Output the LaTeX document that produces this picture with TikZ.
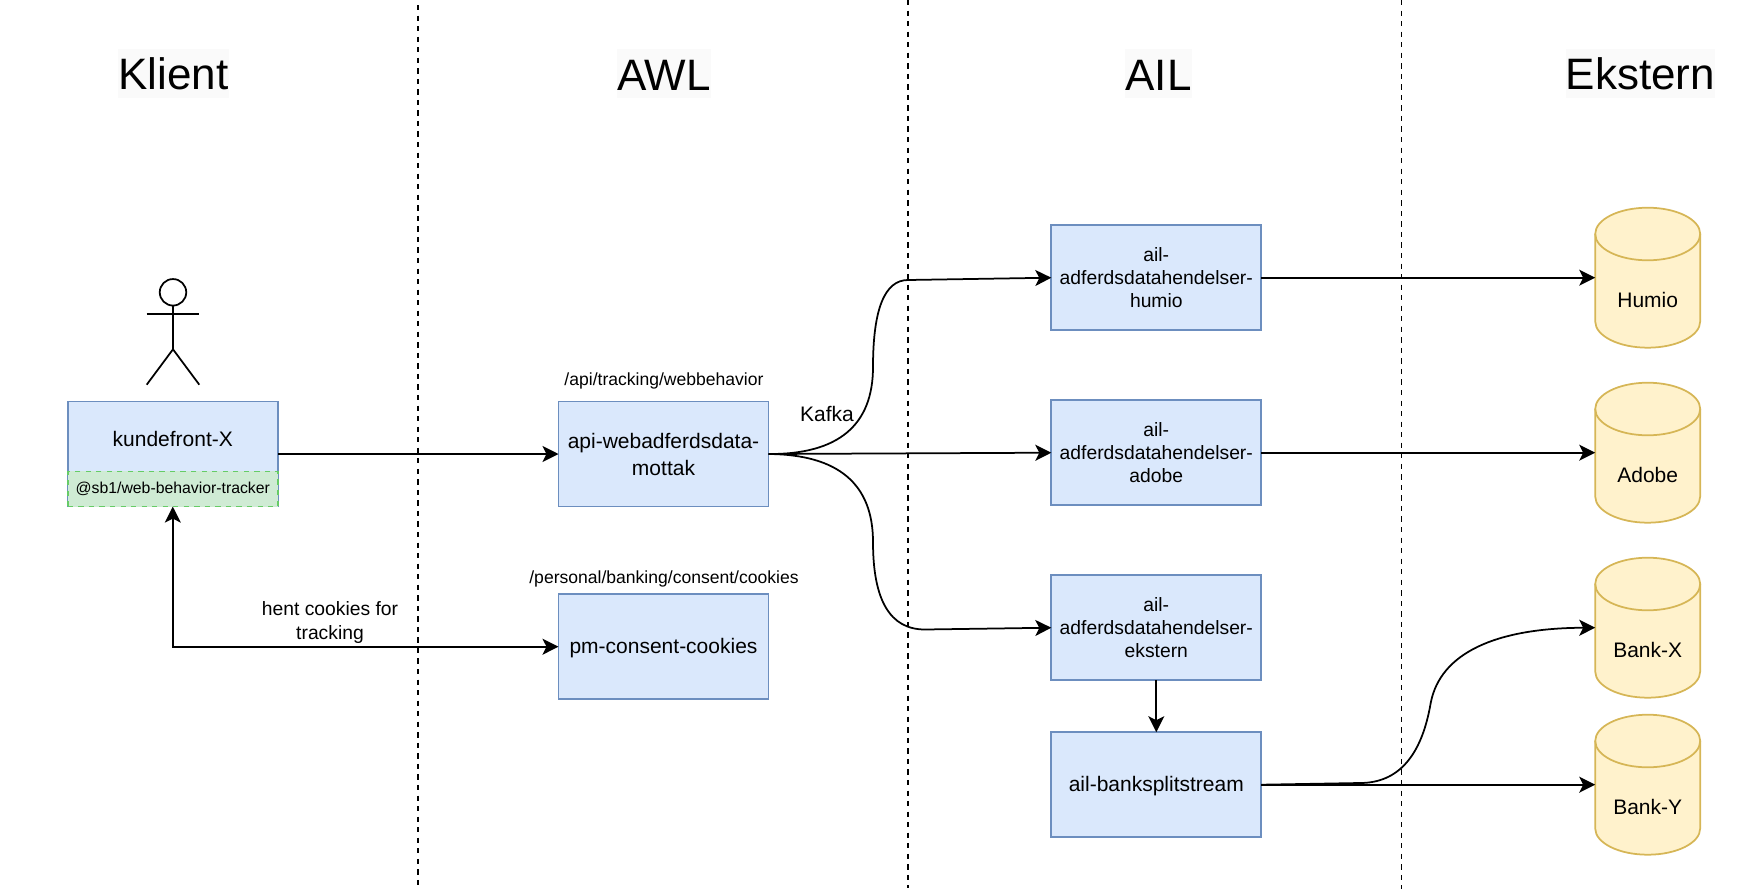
\documentclass[tikz,border=0pt]{standalone}
\usepackage{fontspec}
\setmainfont{Liberation Sans}
\usepackage{xcolor}
\usetikzlibrary{arrows.meta}
\definecolor{svcfill}{HTML}{DAE8FC}
\definecolor{svcline}{HTML}{6C8EBF}
\definecolor{libfill}{HTML}{CFEBD4}
\definecolor{libline}{HTML}{66CC66}
\definecolor{dbfill}{HTML}{FFF2CC}
\definecolor{dbline}{HTML}{D6B656}
\tikzset{linetext/.style={execute at begin node={\rule[-.212em]{0pt}{#1em}},execute at end node={\rule[-.212em]{0pt}{#1em}}},
 linetext/.default=1.05,
 svcbox/.style={draw=svcline,fill=svcfill,line width=1.75pt,minimum width=210pt,minimum height=105pt,inner sep=0pt,outer sep=0pt,align=center,font=\fontsize{21}{24.6}\selectfont},
 svctext/.style={align=center,font=\fontsize{21}{26.7}\selectfont},
 ailbox/.style={svcbox,font=\fontsize{19.3}{23}\selectfont},
 libbox/.style={draw=libline,fill=libfill,line width=1.75pt,dash pattern=on 5.27pt off 5.27pt,minimum width=210pt,minimum height=35.2pt,inner sep=0pt,outer sep=0pt,font=\fontsize{15.8}{18}\selectfont,linetext},
 dbnode/.style={minimum width=105pt,minimum height=140pt,inner sep=0pt,outer sep=0pt},
 dbshape/.style={draw=dbline,fill=dbfill,line width=1.75pt},
 dbtext/.style={font=\fontsize{21}{24.6}\selectfont,linetext},
 title/.style={fill=black!2,inner xsep=0pt,inner ysep=0pt,minimum height=49pt,text height=34.2pt,font=\fontsize{44}{50}\selectfont},
 pathtext/.style={font=\fontsize{17.55}{20}\selectfont,linetext=1.03},
 edgetext/.style={align=center,font=\fontsize{19.3}{24}\selectfont,linetext=1.03},
 sepline/.style={black,line width=1.75pt,dash pattern=on 5.27pt off 5.27pt},
 flow/.style={draw,line width=1.75pt,-{Stealth[length=16pt,width=16pt,inset=4pt]}},
 }
\newcommand{\dbcyl}[3]{
        \node[dbnode] (#1) at #2 {};
        \draw[dbshape] ([yshift=-26.3pt]#1.north west) arc[start angle=180,end angle=0,x radius=52.5pt,y radius=26.3pt] -- ([yshift=26.3pt]#1.south east) arc[start angle=0,end angle=-180,x radius=52.5pt,y radius=26.3pt] -- cycle;
        \draw[dbshape,fill=none] ([yshift=-26.3pt]#1.north west) arc[start angle=180,end angle=360,x radius=52.5pt,y radius=26.3pt];
        \node[dbtext] (#1text) at ([yshift=-23.5pt]#1.center) {#3};
}

\begin{document}
\begin{tikzpicture}[x=1pt,y=-1pt]
        \useasboundingbox (0,0) rectangle (1748,889);
        % columns
        \node[title] (klient) at (173.5,73) {Klient};
        \node[title] (awl) at (664,73) {AWL};
        \node[title] (ail) at (1158.5,73) {AIL};
        \node[title] (ekstern) at (1640.5,73) {Ekstern};
        \coordinate (sepatop) at (418,5);
        \coordinate (sepabot) at (418,889);
        \coordinate (sepbtop) at (908,0);
        \coordinate (sepbbot) at (908,888);
        \coordinate (sepctop) at (1401.5,0);
        \coordinate (sepcbot) at (1401.5,889);
        \draw[sepline] (sepatop) -- (sepabot);
        \draw[sepline] (sepbtop) -- (sepbbot);
        \draw[sepline] (sepctop) -- (sepcbot);
        % user
        \node[draw,circle,line width=1.75pt,minimum size=26.5pt,inner sep=0pt,outer sep=0pt] (head) at (173,292.3) {};
        \coordinate (hip) at (173,349.3);
        \coordinate (armleft) at (146.7,314.3);
        \coordinate (armright) at (199.3,314.3);
        \coordinate (footleft) at (146.7,384.7);
        \coordinate (footright) at (199.3,384.7);
        \draw[line width=1.75pt] (head.south) -- (hip);
        \draw[line width=1.75pt] (armleft) -- (armright);
        \draw[line width=1.75pt] (footleft) -- (hip) -- (footright);
        % boxes
        \node[svcbox,label={[svctext,yshift=15pt]center:kundefront-X}] (kundefront) at (172.8,454) {};
        \node[libbox] (tracker) at (172.8,489) {@sb1/web-behavior-tracker};
        \node[svcbox,label={[svctext,yshift=-0.7pt]center:{api-webadferdsdata-\\mottak}}] (mottak) at (663.5,454) {};
        \node[svcbox,linetext] (consent) at (663.5,646.7) {pm-consent-cookies};
        \node[ailbox] (humioail) at (1156.3,277.7) {ail-\\adferdsdatahendelser-\\humio};
        \node[ailbox] (adobeail) at (1156.3,452.7) {ail-\\adferdsdatahendelser-\\adobe};
        \node[ailbox] (eksternail) at (1156.3,627.7) {ail-\\adferdsdatahendelser-\\ekstern};
        \node[svcbox,linetext] (banksplit) at (1156.3,784.7) {ail-banksplitstream};
        \dbcyl{humio}{(1647.7,277.7)}{Humio}
        \dbcyl{adobe}{(1647.7,452.7)}{Adobe}
        \dbcyl{bankx}{(1647.7,627.7)}{Bank-X}
        \dbcyl{banky}{(1647.7,784.7)}{Bank-Y}
        % labels
        \node[pathtext] (webpath) at (664,380) {/api/tracking/webbehavior};
        \node[pathtext] (cookiepath) at (664,578) {/personal/banking/consent/cookies};
        \node[edgetext] (kafka) at (827,416) {\fontsize{21}{24}\selectfont Kafka};
        \node[edgetext] (hent) at (330,623) {hent cookies for\\tracking};
        % connectors
        \draw[flow] (kundefront.east) -- (mottak.west);
        \draw[flow,{Stealth[length=16pt,width=16pt,inset=4pt]}-{Stealth[length=16pt,width=16pt,inset=4pt]}] (tracker.south) |- (consent.west);
        \draw[flow] (mottak.east) .. controls (838.3,454.5) and (873,425.3) .. (873,367) .. controls (873,309) and (884.7,280) .. (908,280) -- (humioail.west);
        \draw[flow] (mottak.east) -- (adobeail.west);
        \draw[flow] (mottak.east) .. controls (838.3,454.5) and (873,484) .. (873,542) .. controls (873,600.3) and (890,629.5) .. (925,629.5) -- (eksternail.west);
        \draw[flow] (eksternail.south) -- (banksplit.north);
        \draw[flow] (humioail.east) -- (humio.west);
        \draw[flow] (adobeail.east) -- (adobe.west);
        \draw[flow] (banksplit.east) -- (1360,783) .. controls (1398,783) and (1421.6,756.3) .. (1430.7,703) .. controls (1440.2,653) and (1495.8,628) .. (bankx.west);
        \draw[flow] (banksplit.east) -- (banky.west);
    \end{tikzpicture}
\end{document}
